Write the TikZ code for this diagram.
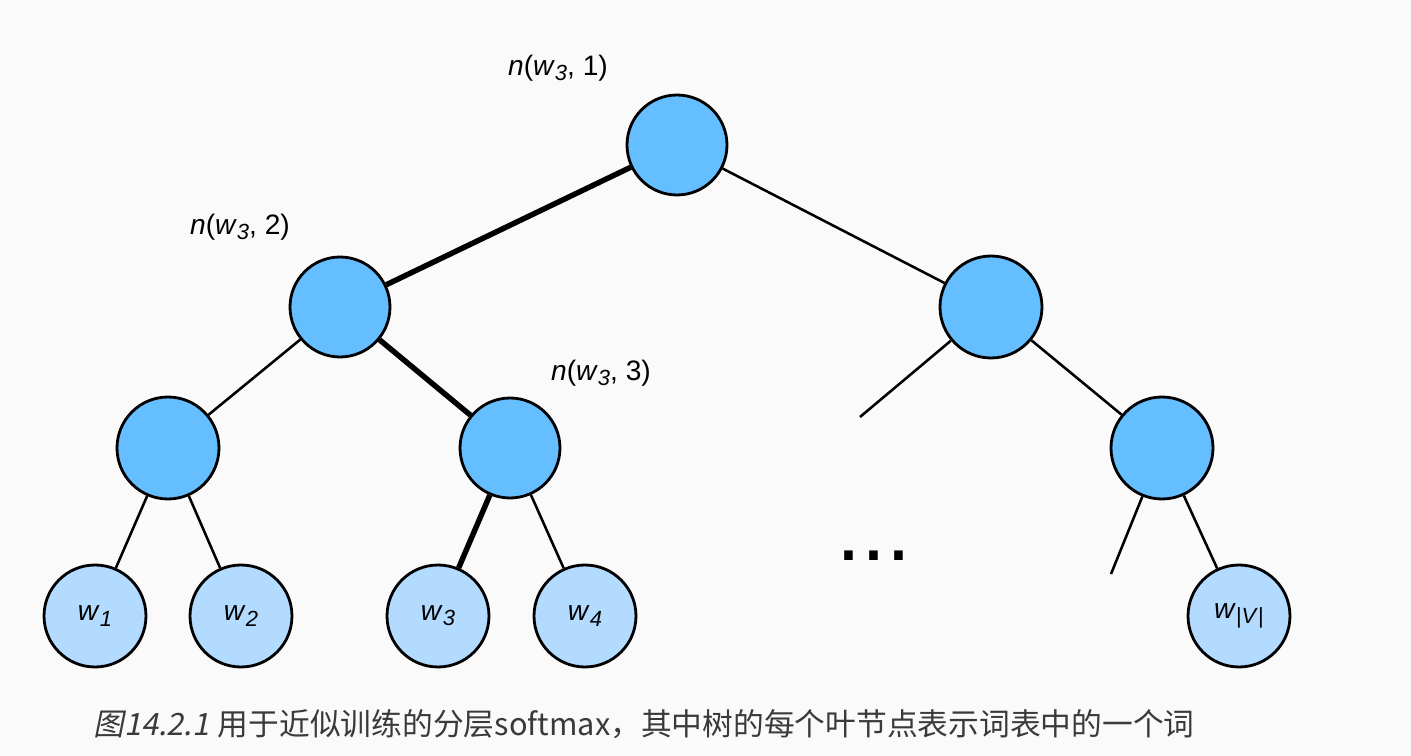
\documentclass[tikz,border=0pt]{standalone}
\usepackage{fontspec}
\setmainfont{Liberation Sans}
\newfontfamily\cjk{Noto Sans CJK SC}
\newfontfamily\cjkit[FakeSlant=0.2]{Noto Sans CJK SC}
\definecolor{bgc}{HTML}{FAFAFA}
\definecolor{inner}{HTML}{64BEFF}
\definecolor{leafc}{HTML}{B3DBFF}
\definecolor{capc}{HTML}{3A3A3A}
\newcommand{\mysub}[1]{\raisebox{-0.35ex}{\fontsize{12.5}{12.5}\selectfont #1}}
\begin{document}
\begin{tikzpicture}[x=0.02cm,y=-0.02cm,
  inode/.style={circle,draw=black,line width=1.6pt,fill=inner,minimum size=2cm,inner sep=0pt},
  lnode/.style={circle,draw=black,line width=1.6pt,fill=leafc,minimum size=2.04cm,inner sep=0pt,font=\fontsize{16}{16}\selectfont},
  thin/.style={line width=1.45pt},
  thick/.style={line width=3.1pt},
  lab/.style={font=\fontsize{16}{16}\selectfont,inner sep=0pt}]
\fill[bgc] (0,0) rectangle (1411,756);
\useasboundingbox (0,0) rectangle (1411,756);
% internal nodes
\node[inode] (r) at (677,145) {};
\node[inode] (a) at (340,307) {};
\node[inode,minimum size=2.04cm] (b) at (991,307) {};
\node[inode,minimum size=2.04cm] (c) at (168,448) {};
\node[inode] (d) at (510,448) {};
\node[inode,minimum size=2.04cm] (e) at (1162,448) {};
% leaves
\node[lnode] (w1) at (95,616) {\textit{w}\mysub{\textit{1}}};
\node[lnode] (w2) at (241,616) {\textit{w}\mysub{\textit{2}}};
\node[lnode] (w3) at (438,616) {\textit{w}\mysub{\textit{3}}};
\node[lnode] (w4) at (585,616) {\textit{w}\mysub{\textit{4}}};
\node[lnode] (wv) at (1239,616) {\textit{w}\mysub{|\textit{V}|}};
% dangling ends
\coordinate (d1) at (860,417);
\coordinate (d2) at (1111,574);
% edges
\draw[thick] (r) -- (a);
\draw[thin] (r) -- (b);
\draw[thin] (a) -- (c);
\draw[thick] (a) -- (d);
\draw[thin] (b) -- (d1);
\draw[thin] (b) -- (e);
\draw[thin] (c) -- (w1);
\draw[thin] (c) -- (w2);
\draw[thick] (d) -- (w3);
\draw[thin] (d) -- (w4);
\draw[thin] (e) -- (d2);
\draw[thin] (e) -- (wv);
% labels
\node[lab] (l1) at (558,68) {\textit{n}(\textit{w}\mysub{\textit{3}}, 1)};
\node[lab] (l2) at (240,227) {\textit{n}(\textit{w}\mysub{\textit{3}}, 2)};
\node[lab] (l3) at (601,373) {\textit{n}(\textit{w}\mysub{\textit{3}}, 3)};
% dots
\node[inner sep=0pt,font=\fontsize{51}{51}\selectfont] (dots) at (874,556) {...};
% caption
\node[anchor=west,inner sep=0pt,text=capc,font=\fontsize{17.5}{17.5}\selectfont] (cap) at (93,724)
  {{\cjkit 图14.2.1}\ {\cjk 用于近似训练的分层softmax，其中树的每个叶节点表示词表中的一个词}};
\end{tikzpicture}
\end{document}
